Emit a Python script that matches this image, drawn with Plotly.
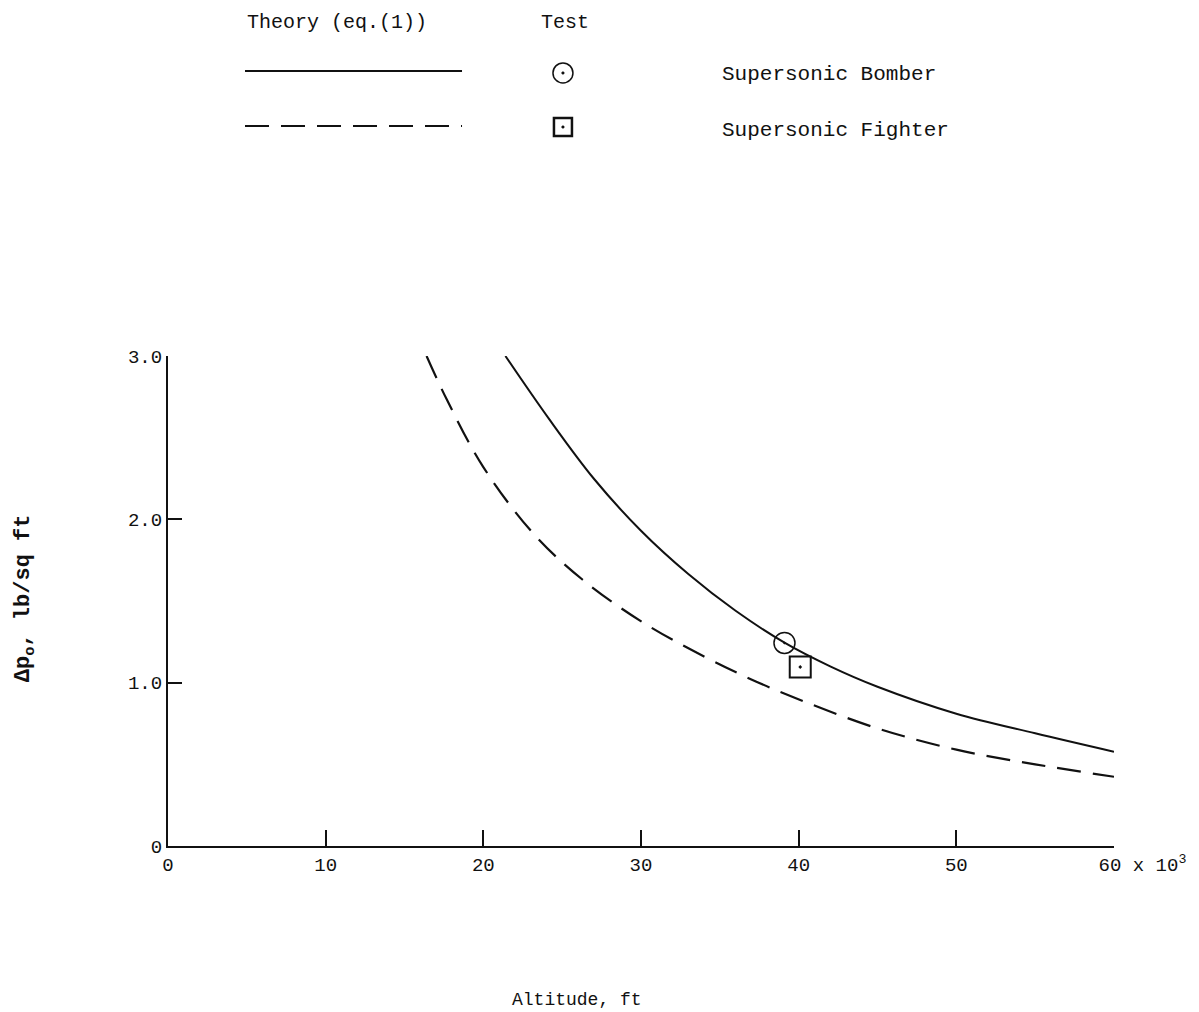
import plotly.graph_objects as go

# Theory curves, eq.(1): overpressure (lb/sq ft) vs altitude (thousands of ft)
bomber_alt = [21.4, 24.2, 27.0, 30.0, 33.0, 36.0, 39.1, 42.0, 45.0, 50.0, 55.0, 60.0]
bomber_dp = [3.0, 2.61, 2.25, 1.93, 1.665, 1.44, 1.245, 1.10, 0.975, 0.81, 0.69, 0.577]

fighter_alt = [16.4, 17.7, 20.0, 23.2, 26.3, 30.1, 34.0, 37.0, 40.1, 45.0, 50.0, 55.0, 60.0]
fighter_dp = [3.0, 2.73, 2.32, 1.91, 1.63, 1.37, 1.16, 1.02, 0.894, 0.72, 0.59, 0.50, 0.424]

# Flight test points
test_alt = [39.1, 40.1]
test_dp = [1.243, 1.096]
test_names = ["Supersonic Bomber", "Supersonic Fighter"]
test_symbols = ["circle-open-dot", "square-open-dot"]

x_ticks = [0, 10, 20, 30, 40, 50, 60]
x_ticktext = ["0", "10", "20", "30", "40", "50", "\u00a0" * 5 + "60 x 10<sup>3</sup>"]
y_ticks = [0, 1, 2, 3]
y_ticktext = ["0", "1.0", "2.0", "3.0"]

FONT = "Liberation Mono"
INK = "#111111"
DASH = "24px,12px"

fig = go.Figure()

fig.add_trace(go.Scatter(
    x=bomber_alt, y=bomber_dp, mode="lines",
    line=dict(color=INK, width=2, shape="spline", smoothing=1.0),
    showlegend=False, name="Theory - Supersonic Bomber",
))
fig.add_trace(go.Scatter(
    x=fighter_alt, y=fighter_dp, mode="lines",
    line=dict(color=INK, width=2.2, shape="spline", smoothing=1.0, dash=DASH),
    showlegend=False, name="Theory - Supersonic Fighter",
))
for xa, ya, nm, sym, lw in zip(test_alt, test_dp, test_names, test_symbols, [1.5, 2]):
    fig.add_trace(go.Scatter(
        x=[xa], y=[ya], mode="markers", name=nm, showlegend=False,
        marker=dict(symbol=sym, size=21, color=INK, line=dict(color=INK, width=lw)),
        cliponaxis=False,
    ))


def key_mark(kind, xp, yp, half, lw):
    """Open marker with a centre dot, placed in paper coordinates at a fixed pixel size."""
    common = dict(xref="paper", yref="paper", xsizemode="pixel", ysizemode="pixel",
                  xanchor=xp, yanchor=yp)
    return [
        dict(type=kind, x0=-half, x1=half, y0=-half, y1=half,
             line=dict(color=INK, width=lw), fillcolor="rgba(0,0,0,0)", **common),
        dict(type="circle", x0=-1.3, x1=1.3, y0=-1.3, y1=1.3,
             line=dict(color=INK, width=0.5), fillcolor=INK, **common),
    ]


# Hand-drawn key above the plot (paper coordinates)
shapes = [
    dict(type="line", xref="paper", yref="paper", x0=0.0814, x1=0.3108, y0=1.5816, y1=1.5816,
         line=dict(color=INK, width=2)),
    dict(type="line", xref="paper", yref="paper", x0=0.0814, x1=0.3108, y0=1.4694, y1=1.4694,
         line=dict(color=INK, width=2.2, dash=DASH)),
]
shapes += key_mark("circle", 0.4175, 1.5776, 10, 1.5)
shapes += key_mark("rect", 0.4175, 1.4673, 9, 2.5)
fig.update_layout(shapes=shapes)

annotations = [
    dict(text="Theory (eq.(1))", x=0.0814, y=1.6816, xanchor="left", size=20),
    dict(text="Test", x=0.4197, y=1.6816, xanchor="center", size=20),
    dict(text="Supersonic Bomber", x=0.5835, y=1.5735, xanchor="left", size=21),
    dict(text="Supersonic Fighter", x=0.5835, y=1.4592, xanchor="left", size=21),
    dict(text="Altitude, ft", x=0.432, y=-0.314, xanchor="center", size=18),
    dict(text="<b>\u0394p<sub>o</sub>, lb/sq ft</b>", x=-0.151, y=0.506, xanchor="center",
         textangle=-90, size=22),
]
for a in annotations:
    size = a.pop("size")
    a.update(xref="paper", yref="paper", yanchor="middle", showarrow=False,
             font=dict(family=FONT, size=size, color=INK))
fig.update_layout(annotations=annotations)

fig.update_layout(
    width=1199, height=1012,
    margin=dict(l=168, r=85, t=356, b=166),
    paper_bgcolor="white", plot_bgcolor="white",
    font=dict(family=FONT, size=19, color=INK),
    xaxis=dict(
        range=[0, 60], tickvals=x_ticks, ticktext=x_ticktext,
        showgrid=False, zeroline=False, showline=True, linecolor=INK, linewidth=2,
        ticks="inside", ticklen=16, tickwidth=2, tickcolor=INK, automargin=False,
        tickfont=dict(family=FONT, size=19, color=INK),
    ),
    yaxis=dict(
        range=[0, 3], tickvals=y_ticks, ticktext=y_ticktext,
        showgrid=False, zeroline=False, showline=True, linecolor=INK, linewidth=2,
        ticks="inside", ticklen=14, tickwidth=2, tickcolor=INK, automargin=False,
        tickfont=dict(family=FONT, size=19, color=INK),
    ),
)

fig.write_html("out.html")
